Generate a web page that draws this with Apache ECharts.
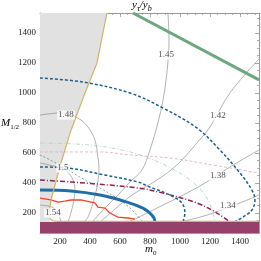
<!DOCTYPE html>
<html><head><meta charset="utf-8">
<script src="https://cdn.jsdelivr.net/npm/echarts@6/dist/echarts.min.js"></script>
<style>html,body{margin:0;padding:0;background:#fff}#c{width:261px;height:261px}</style>
</head><body><div id="c"></div>
<script>
// axis ranges and ticks
const xRange = [67, 1527];
const yRange = [67, 1533];
const xTickLabels = [200, 400, 600, 800, 1000, 1200, 1400];
const yTickLabels = [200, 400, 600, 800, 1000, 1200, 1400];

// excluded region boundary (yellow line) and bottom band
const bandTop = 140;
const boundaryLine = [[1527,145],[300,145],[185,145],[152,148],[136,160],[129,185],[132,230],[140,287],[200,510],[267,733],[367,1000],[447,1200],[513,1533]];
const greyRegionEdge = [[133,140],[129,185],[132,230],[140,287],[200,510],[267,733],[367,1000],[447,1200],[513,1533]];

// y_tau / y_b contours
const c154 = [[67,253],[147,240],[187,200],[207,140]];
const c150 = [[67,533],[207,500],[253,473],[287,420],[300,353],[293,287],[273,200],[253,140]];
const c148 = [[67,853],[207,867],[320,833],[387,773],[433,687],[453,573],[460,507],[447,373],[420,267],[387,173],[360,140]];
const c145 = [[920,1533],[927,1353],[913,1133],[887,953],[853,800],[800,620],[747,487],[667,407],[587,320],[500,233],[413,140]];
const c142 = [[1527,1227],[1333,1000],[1200,773],[1113,667],[980,520],[847,420],[733,353],[653,300],[560,220],[467,140]];
const c138 = [[1527,620],[1333,507],[1200,420],[1047,333],[887,253],[780,200],[700,160],[653,140]];
const c134 = [[1527,320],[1400,267],[1220,200],[1113,167],[1000,140]];
const contourLabels = [[240,853,'1.48'],[220,500,'1.5'],[153,200,'1.54'],[907,1253,'1.45'],[1253,847,'1.42'],[1253,447,'1.38'],[1320,247,'1.34']];

// other constraint curves
const greenThick = [[687,1533],[1527,1087]];
const blueDashOuter = [[67,1100],[353,1073],[667,1000],[887,900],[1113,767],[1267,620],[1400,467],[1480,353],[1500,287],[1480,220],[1420,173],[1360,140]];
const blueDashInner = [[67,507],[253,500],[500,453],[720,407],[800,373],[933,320],[1013,267],[1033,200],[1020,140]];
const magentaDashDot = [[67,420],[273,407],[720,367],[887,333],[1113,267],[1247,200],[1333,140]];
const blueThick = [[67,353],[273,347],[467,320],[647,273],[753,233],[800,200],[827,167],[833,140]];
const redLine = [[67,300],[140,287],[187,273],[233,280],[273,287],[340,287],[407,273],[433,267],[453,240],[500,233],[533,200],[587,173],[653,167],[700,160]];
const pinkDashed = [[67,607],[467,607],[667,587],[933,567],[1220,520],[1527,467]];
const paleDashDot = [[67,667],[400,653],[667,607],[900,520],[1067,420],[1167,320],[1213,220],[1233,140]];
const greenDashed = [[67,587],[200,520],[333,440],[467,367],[567,307],[667,233],[753,140]];

const minor = (r, step) => { const a=[]; for (let v=Math.ceil(r[0]/step)*step; v<=r[1]; v+=step) a.push(v); return a; };
const serif = 'Liberation Serif';
const frameColor = '#9a9a9a';

function axis(kind, pos, range, ticks, len, labels, line) {
  return {
    type: 'value', position: pos, min: range[0], max: range[1],
    axisLine: { show: line, onZero: false, lineStyle: { color: frameColor, width: 1 } },
    axisTick: { show: true, inside: true, length: len, customValues: ticks, lineStyle: { color: frameColor, width: 0.8 } },
    axisLabel: labels ? { show: true, customValues: ticks, formatter: v => String(v), fontFamily: serif, fontSize: 9, color: '#222', margin: 4 } : { show: false },
    splitLine: { show: false }
  };
}

const chart = echarts.init(document.getElementById('c'), null, { renderer: 'canvas' });

function polySeries(pointsFn, color, z) {
  return {
    type: 'custom', z: z, silent: true,
    data: [[xRange[0], yRange[0]]],
    renderItem: (params, api) => ({
      type: 'polygon',
      shape: { points: pointsFn().map(p => api.coord(p)) },
      style: { fill: color, stroke: null }
    })
  };
}
function lineS(data, color, width, type, z, smooth) {
  return { type: 'line', data: data, showSymbol: false, symbol: 'none', smooth: smooth === undefined ? 0.35 : smooth,
    lineStyle: { color: color, width: width, type: type || 'solid' }, z: z || 3, silent: true, animation: false };
}

const contourColor = '#7e7e7e';
const rich = {
  i: { fontFamily: serif, fontStyle: 'italic', fontSize: 11, lineHeight: 14, color: '#222' },
  s: { fontFamily: serif, fontSize: 7, lineHeight: 7, verticalAlign: 'bottom', color: '#222' },
  si: { fontFamily: serif, fontStyle: 'italic', fontSize: 8, lineHeight: 8, verticalAlign: 'bottom', color: '#222' }
};
chart.setOption({
  animation: false,
  grid: { left: 40, top: 13, right: 2, bottom: 28 },
  xAxis: [
    axis('x', 'bottom', xRange, xTickLabels, 4, true, true),
    axis('x', 'bottom', xRange, minor(xRange, 50), 2, false, false),
    axis('x', 'top', xRange, xTickLabels, 4, false, true),
    axis('x', 'top', xRange, minor(xRange, 50), 2, false, false)
  ],
  yAxis: [
    axis('y', 'left', yRange, yTickLabels, 4, true, true),
    axis('y', 'left', yRange, minor(yRange, 50), 2, false, false),
    axis('y', 'right', yRange, yTickLabels, 4, false, true),
    axis('y', 'right', yRange, minor(yRange, 50), 2, false, false)
  ],
  series: [
    polySeries(() => [[xRange[0], bandTop]].concat(greyRegionEdge).concat([[xRange[0], yRange[1]]]), '#e1e1e1', 1),
    lineS(c154, contourColor, 0.6),
    lineS(c150, contourColor, 0.6),
    lineS(c148, contourColor, 0.6),
    lineS(c145, contourColor, 0.6),
    lineS(c142, contourColor, 0.6),
    lineS(c138, contourColor, 0.6),
    lineS(c134, contourColor, 0.6),
    lineS(pinkDashed, '#e2b3c2', 0.9, [3, 2]),
    lineS(paleDashDot, '#b7cdd2', 0.9, [4, 2, 1, 2]),
    lineS(greenDashed, '#6f9b79', 0.9, [2, 2]),
    lineS(blueDashOuter, '#1d5f8c', 1.5, [3, 2]),
    lineS(blueDashInner, '#1d5f8c', 1.5, [3, 2]),
    lineS(magentaDashDot, '#8b2456', 1.5, [5, 2, 1, 2]),
    lineS(redLine, '#ef4429', 1.3, 'solid', 4, false),
    lineS(blueThick, '#1f6ea5', 3, 'solid', 5),
    lineS(greenThick, '#6ca77d', 3, 'solid', 5, false),
    polySeries(() => [[xRange[0], yRange[0]], [xRange[1], yRange[0]], [xRange[1], bandTop], [xRange[0], bandTop]], '#96406c', 6),
    lineS(boundaryLine, '#cbb56c', 1.2, 'solid', 7, false),
    {
      type: 'scatter', z: 8, silent: true, symbol: 'circle', symbolSize: 2, itemStyle: { color: 'rgba(0,0,0,0)' },
      data: contourLabels,
      label: { show: true, position: 'inside', formatter: p => p.data[2], fontFamily: serif, fontSize: 9, color: '#222',
        backgroundColor: '#fff', padding: [0, 1] },
      labelLayout: { hideOverlap: false }
    }
  ],
  graphic: [
    { type: 'text', left: 132, top: 0, z: 10, style: { text: '{i|y}{si|τ}{i|/y}{si|b}', rich: rich } },
    { type: 'text', left: 145, top: 244, z: 10, style: { text: '{i|m}{s|0}', rich: rich } },
    { type: 'text', left: 1, top: 118, z: 10, style: { text: '{i|M}{s|1/2}', rich: rich } }
  ]
});
</script></body></html>
